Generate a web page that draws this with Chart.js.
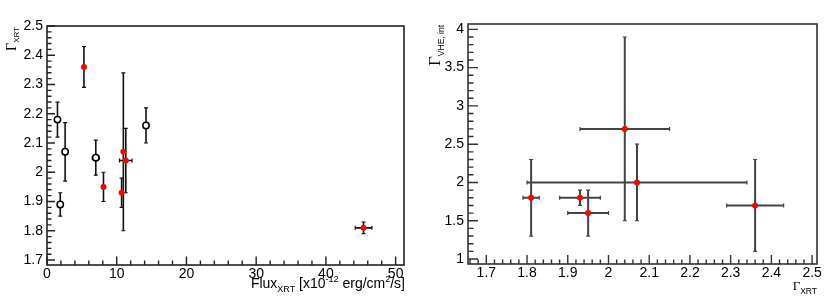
<!DOCTYPE html>
<html>
<head>
<meta charset="utf-8">
<script src="https://cdn.jsdelivr.net/npm/chart.js@4"></script>
<style>
    html, body { margin: 0; padding: 0; background: #fff; }
    #wrap { position: relative; width: 830px; height: 306px; }
    .pane { position: absolute; top: 0; width: 415px; height: 306px; }
</style>
</head>
<body>
<div id="wrap">
    <div class="pane" style="left:0"><canvas id="fluxChart" width="415" height="306"></canvas></div>
    <div class="pane" style="left:415px"><canvas id="indexChart" width="415" height="306"></canvas></div>
</div>
<script>
// left panel: photon index vs X-ray flux
const fluxOpen = [1.5, 2.6, 1.9, 7.0, 14.2];
const fluxOpenErr = [0, 0, 0, 0.5, 0];
const gammaOpen = [2.18, 2.07, 1.89, 2.05, 2.16];
const gammaOpenErr = [0.06, 0.10, 0.04, 0.06, 0.06];

const fluxRed = [5.3, 8.1, 10.7, 10.95, 11.3, 45.4];
const fluxRedErr = [0, 0, 0, 0, 0.9, 1.2];
const gammaRed = [2.36, 1.95, 1.93, 2.07, 2.04, 1.81];
const gammaRedErr = [0.07, 0.05, 0.05, 0.27, 0.11, 0.02];

// right panel: VHE index vs XRT index
const gammaXrt = [1.81, 1.93, 1.95, 2.04, 2.07, 2.36];
const gammaXrtErr = [0.02, 0.05, 0.05, 0.11, 0.27, 0.07];
const gammaVhe = [1.8, 1.8, 1.6, 2.7, 2.0, 1.7];
const gammaVheErr = [0.5, 0.1, 0.3, 1.2, 0.5, 0.6];

// tick labels
const fluxTicks = [0, 10, 20, 30, 40, 50];
const gammaXrtTicksL = [1.7, 1.8, 1.9, 2.0, 2.1, 2.2, 2.3, 2.4, 2.5];
const gammaXrtTicksR = [1.7, 1.8, 1.9, 2.0, 2.1, 2.2, 2.3, 2.4, 2.5];
const gammaVheTicks = [1, 1.5, 2, 2.5, 3, 3.5, 4];

const SANS = "'Liberation Sans', Arial, sans-serif";
const SERIF = "'Liberation Serif', 'Times New Roman', serif";

function points(xs, ys) {
    return xs.map((x, i) => ({ x: x, y: ys[i] }));
}

function drawRich(ctx, segs, x, y, rotate) {
    ctx.save();
    ctx.translate(x, y);
    if (rotate) ctx.rotate(-Math.PI / 2);
    ctx.textAlign = "left";
    ctx.textBaseline = "alphabetic";
    ctx.fillStyle = "#000";
    let total = 0;
    segs.forEach(s => { ctx.font = s.f; total += ctx.measureText(s.t).width; });
    let cx = -total;
    segs.forEach(s => {
        ctx.font = s.f;
        ctx.fillText(s.t, cx, s.dy || 0);
        cx += ctx.measureText(s.t).width;
    });
    ctx.restore();
}

// ROOT-like frame, inward ticks, error bars and axis titles
const rootStyle = {
    id: "rootStyle",
    beforeDatasetsDraw(chart, args, opts) {
        const ctx = chart.ctx;
        const xs = chart.scales.x, ys = chart.scales.y;
        const cap = 2;
        ctx.save();
        ctx.strokeStyle = opts.barColor;
        chart.data.datasets.forEach(ds => {
            ds.data.forEach((p, i) => {
                const px = xs.getPixelForValue(p.x), py = ys.getPixelForValue(p.y);
                const ex = ds.xErr[i], ey = ds.yErr[i];
                ctx.lineWidth = opts.barWidth;
                ctx.beginPath();
                if (ey) {
                    ctx.moveTo(px, ys.getPixelForValue(p.y + ey));
                    ctx.lineTo(px, ys.getPixelForValue(p.y - ey));
                }
                if (ex) {
                    ctx.moveTo(xs.getPixelForValue(p.x - ex), py);
                    ctx.lineTo(xs.getPixelForValue(p.x + ex), py);
                }
                ctx.stroke();
                ctx.lineWidth = 1.2;
                ctx.beginPath();
                if (ey) {
                    [p.y + ey, p.y - ey].forEach(v => {
                        const yy = ys.getPixelForValue(v);
                        ctx.moveTo(px - cap, yy); ctx.lineTo(px + cap, yy);
                    });
                }
                if (ex) {
                    [p.x - ex, p.x + ex].forEach(v => {
                        const xx = xs.getPixelForValue(v);
                        ctx.moveTo(xx, py - cap); ctx.lineTo(xx, py + cap);
                    });
                }
                ctx.stroke();
            });
        });
        ctx.restore();
    },
    afterDraw(chart, args, opts) {
        const ctx = chart.ctx;
        const a = chart.chartArea;
        const xs = chart.scales.x, ys = chart.scales.y;
        ctx.save();
        ctx.strokeStyle = opts.frameColor;
        ctx.lineWidth = 1.4;
        ctx.beginPath();
        // minor and major ticks point into the frame
        const yStart = Math.ceil(ys.min / opts.yMinor - 1e-6) * opts.yMinor;
        for (let k = 0; yStart + k * opts.yMinor <= ys.max + 1e-9; k++) {
            const v = yStart + k * opts.yMinor;
            const isMajor = ys.ticks.some(t => Math.abs(t.value - v) < 1e-6);
            const yy = ys.getPixelForValue(v);
            ctx.moveTo(a.left, yy);
            ctx.lineTo(a.left + (isMajor ? opts.yMajorLen : opts.yMinorLen), yy);
        }
        const xStart = Math.ceil(xs.min / opts.xMinor - 1e-6) * opts.xMinor;
        for (let k = 0; xStart + k * opts.xMinor <= xs.max + 1e-9; k++) {
            const v = xStart + k * opts.xMinor;
            const isMajor = xs.ticks.some(t => Math.abs(t.value - v) < 1e-6);
            const xx = xs.getPixelForValue(v);
            ctx.moveTo(xx, a.bottom);
            ctx.lineTo(xx, a.bottom - (isMajor ? opts.xMajorLen : opts.xMinorLen));
        }
        ctx.stroke();
        ctx.lineWidth = opts.frameWidth;
        ctx.strokeRect(a.left, a.top, a.right - a.left, a.bottom - a.top);
        ctx.restore();

        drawRich(ctx, opts.xTitle, opts.xTitlePos[0], opts.xTitlePos[1], false);
        drawRich(ctx, opts.yTitle, opts.yTitlePos[0], opts.yTitlePos[1], true);
    }
};

function axis(min, max, tickValues, fixedSize, isY) {
    return {
        type: "linear",
        min: min,
        max: max,
        afterBuildTicks: scale => { scale.ticks = tickValues.map(v => ({ value: v })); },
        afterFit: scale => {
            if (isY) scale.width = fixedSize; else scale.height = fixedSize;
        },
        grid: { display: false, drawTicks: false },
        border: { display: false },
        ticks: {
            color: "#000",
            font: { family: SANS, size: 14 },
            padding: isY ? 4 : 1,
            maxRotation: 0,
            autoSkip: false,
            callback: v => String(Math.round(v * 100) / 100)
        }
    };
}

function baseOptions(scales, padding, style) {
    return {
        responsive: false,
        animation: false,
        events: [],
        layout: { padding: padding },
        scales: scales,
        plugins: {
            legend: { display: false },
            tooltip: { enabled: false },
            rootStyle: style
        }
    };
}

new Chart(document.getElementById("fluxChart"), {
    type: "scatter",
    data: {
        datasets: [
            {
                data: points(fluxOpen, gammaOpen),
                xErr: fluxOpenErr,
                yErr: gammaOpenErr,
                pointRadius: 3.2,
                backgroundColor: "#ffffff",
                borderColor: "#000000",
                borderWidth: 1.5
            },
            {
                data: points(fluxRed, gammaRed),
                xErr: fluxRedErr,
                yErr: gammaRedErr,
                pointRadius: 3,
                backgroundColor: "#ff0000",
                borderWidth: 0
            }
        ]
    },
    options: baseOptions(
        { x: axis(0, 51.2, fluxTicks, 41, false), y: axis(1.683, 2.5, gammaXrtTicksL, 47, true) },
        { left: 0, right: 11, top: 26, bottom: 0 },
        {
            barColor: "#111", barWidth: 1.6,
            frameColor: "#222", frameWidth: 1.6,
            yMinor: 0.02, xMinor: 2,
            yMajorLen: 8, yMinorLen: 4.5, xMajorLen: 8.5, xMinorLen: 4.5,
            xTitle: [
                { t: "Flux", f: "14px " + SANS },
                { t: "XRT", f: "9px " + SANS, dy: 3.5 },
                { t: " [x10", f: "14px " + SANS },
                { t: "-12", f: "9px " + SANS, dy: -6 },
                { t: " erg/cm", f: "14px " + SANS },
                { t: "2", f: "9px " + SANS, dy: -6 },
                { t: "/s]", f: "14px " + SANS }
            ],
            xTitlePos: [405, 288],
            yTitle: [
                { t: "\u0393", f: "14px " + SERIF },
                { t: "XRT", f: "8px " + SANS, dy: 3 }
            ],
            yTitlePos: [16, 27]
        }
    ),
    plugins: [rootStyle]
});

new Chart(document.getElementById("indexChart"), {
    type: "scatter",
    data: {
        datasets: [
            {
                data: points(gammaXrt, gammaVhe),
                xErr: gammaXrtErr,
                yErr: gammaVheErr,
                pointRadius: 3,
                backgroundColor: "#ff0000",
                borderWidth: 0
            }
        ]
    },
    options: baseOptions(
        { x: axis(1.655, 2.512, gammaXrtTicksR, 42, false), y: axis(0.935, 4.07, gammaVheTicks, 53, true) },
        { left: 0, right: 13, top: 24, bottom: 0 },
        {
            barColor: "#444", barWidth: 2,
            frameColor: "#333", frameWidth: 1.6,
            yMinor: 0.1, xMinor: 0.02,
            yMajorLen: 10, yMinorLen: 5.5, xMajorLen: 9, xMinorLen: 4.5,
            xTitle: [
                { t: "\u0393", f: "13px " + SERIF },
                { t: "XRT", f: "8.5px " + SANS, dy: 3.5 }
            ],
            xTitlePos: [402, 290],
            yTitle: [
                { t: "\u0393", f: "17px " + SERIF },
                { t: "VHE, int", f: "8.5px " + SANS, dy: 4 }
            ],
            yTitlePos: [25, 25]
        }
    ),
    plugins: [rootStyle]
});
</script>
</body>
</html>
